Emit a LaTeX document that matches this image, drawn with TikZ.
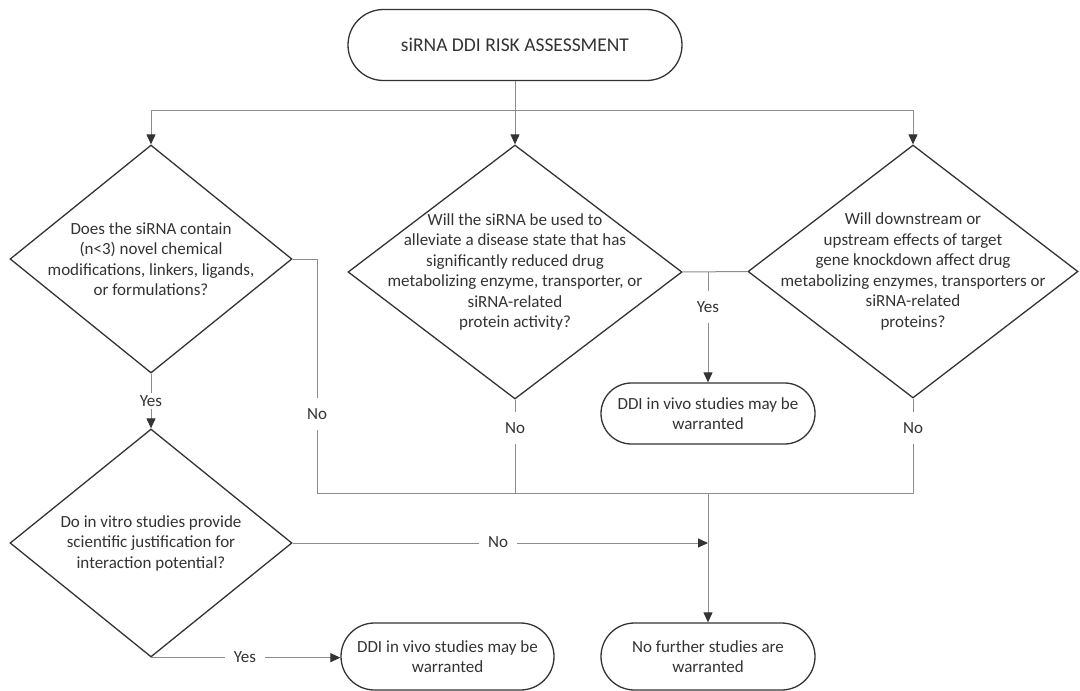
\documentclass[tikz,border=0pt]{standalone}
\usepackage{fontspec}
\setmainfont{Carlito}
\usetikzlibrary{shapes.geometric,shapes.misc,arrows.meta}
\definecolor{ink}{HTML}{333333}
\definecolor{wire}{HTML}{8C8C8C}
\begin{document}
\begin{tikzpicture}[x=1pt,y=-1pt,
  every node/.style={font=\fontsize{17}{20.5}\selectfont, text=ink},
  term/.style={rounded rectangle, draw=ink, line width=1.3pt, inner sep=0pt, align=center},
  dia/.style={diamond, draw=ink, line width=1.3pt, inner sep=0pt},
  txt/.style={align=center, inner sep=0pt},
  wireline/.style={draw=wire, line width=1pt},
  arr/.style={wireline, -{Triangle[length=10pt,width=9pt,color=ink,fill=ink]}},
  lab/.style={fill=white, inner xsep=9pt, inner ysep=10pt}]
\useasboundingbox (0,0) rectangle (1080,691);
\node[term, minimum width=334pt, minimum height=71pt, font=\fontsize{19.5}{23}\selectfont] (start) at (515,45) {siRNA DDI RISK ASSESSMENT};
\node[dia, minimum width=282pt, minimum height=228pt] (d1) at (151,259) {};
\node[txt] (d1t) at (d1) {Does the siRNA contain\\(n<3) novel chemical\\modifications, linkers, ligands,\\or formulations?};
\node[dia, minimum width=334pt, minimum height=254pt] (d2) at (515,272) {};
\node[txt] (d2t) at (d2) {Will the siRNA be used to\\alleviate a disease state that has\\significantly reduced drug\\metabolizing enzyme, transporter, or\\siRNA-related\\protein activity?};
\node[dia, minimum width=330pt, minimum height=253pt] (d3) at (913,271.5) {};
\node[txt] (d3t) at (d3) {Will downstream or\\upstream effects of target\\gene knockdown affect drug\\metabolizing enzymes, transporters or\\siRNA-related\\proteins?};
\node[dia, minimum width=282pt, minimum height=228pt] (d4) at (151,543) {};
\node[txt] (d4t) at (d4) {Do in vitro studies provide\\scientific justification for\\interaction potential?};
\node[term, minimum width=214pt, minimum height=61pt] (ddi1) at (708,413.5) {DDI in vivo studies may be\\warranted};
\node[term, minimum width=213pt, minimum height=67pt] (ddi2) at (447.5,656.5) {DDI in vivo studies may be\\warranted};
\node[term, minimum width=214pt, minimum height=67pt] (nf) at (708,656.5) {No further studies are\\warranted};
\coordinate (split) at (515,110);
\coordinate (nl) at (317,493);
\coordinate (col) at (708,493);
\coordinate (yb) at (ddi1.north |- d2.east);
\draw[wireline] (start.south) -- (split);
\draw[arr] (split) -- (d2.north);
\draw[arr] (split) -| (d1.north);
\draw[arr] (split) -| (d3.north);
\draw[wireline] (d1.east) -| (nl) -- (col);
\draw[wireline] (d2.south) -- (d2.south |- col);
\draw[wireline] (d3.south) |- (col);
\draw[arr] (col) -- (nf.north);
\draw[wireline] (d2.east) -- (d3.west);
\draw[arr] (yb) -- (ddi1.north);
\draw[arr] (d1.south) -- (d4.north);
\draw[arr] (d4.east) -- (d4.east -| col);
\draw[arr] (d4.south) -- (d4.south -| ddi2.west);
\node[lab] (l1) at (317,414) {No};
\node[lab] (l2) at (515,428) {No};
\node[lab] (l3) at (913,428) {No};
\node[lab] (l4) at (708,307) {Yes};
\node[lab, inner sep=2pt] (l5) at (151,401) {Yes};
\node[lab] (l6) at (498,542) {No};
\node[lab] (l7) at (245,657) {Yes};
\end{tikzpicture}
\end{document}
